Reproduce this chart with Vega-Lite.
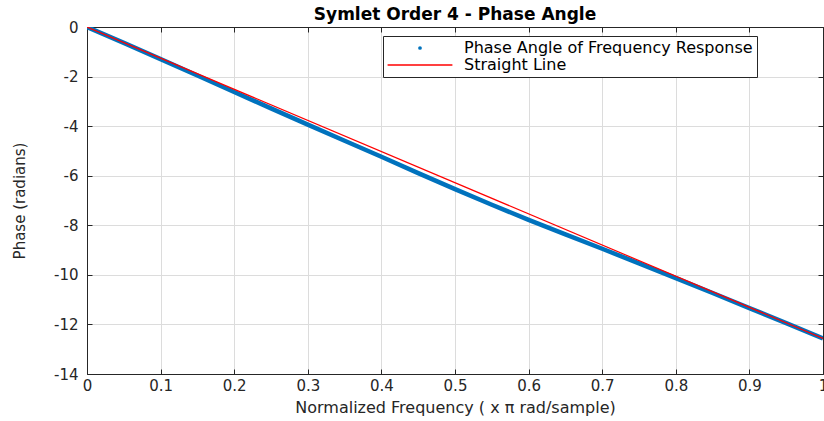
{
  "$schema": "https://vega.github.io/schema/vega-lite/v6.json",
  "autosize": {"type": "none"},
  "width": 736,
  "height": 347,
  "padding": {"left": 87, "top": 27, "right": 1, "bottom": 47},
  "background": "white",
  "title": {"text": "Symlet Order 4 - Phase Angle", "font": "DejaVu Sans", "fontSize": 17, "fontWeight": "bold", "color": "#000000", "offset": -4, "anchor": "middle"},
  "config": {"view": {"stroke": "#262626", "strokeWidth": 1}},
  "datasets": {
    "phase": [
      {"x": 0, "phase": 0, "series": "Phase Angle of Frequency Response"},
      {"x": 0.05, "phase": -0.643, "series": "Phase Angle of Frequency Response"},
      {"x": 0.1, "phase": -1.297, "series": "Phase Angle of Frequency Response"},
      {"x": 0.15, "phase": -1.955, "series": "Phase Angle of Frequency Response"},
      {"x": 0.2, "phase": -2.623, "series": "Phase Angle of Frequency Response"},
      {"x": 0.25, "phase": -3.282, "series": "Phase Angle of Frequency Response"},
      {"x": 0.3, "phase": -3.94, "series": "Phase Angle of Frequency Response"},
      {"x": 0.35, "phase": -4.588, "series": "Phase Angle of Frequency Response"},
      {"x": 0.4, "phase": -5.237, "series": "Phase Angle of Frequency Response"},
      {"x": 0.45, "phase": -5.895, "series": "Phase Angle of Frequency Response"},
      {"x": 0.5, "phase": -6.543, "series": "Phase Angle of Frequency Response"},
      {"x": 0.55, "phase": -7.172, "series": "Phase Angle of Frequency Response"},
      {"x": 0.6, "phase": -7.78, "series": "Phase Angle of Frequency Response"},
      {"x": 0.65, "phase": -8.368, "series": "Phase Angle of Frequency Response"},
      {"x": 0.7, "phase": -8.946, "series": "Phase Angle of Frequency Response"},
      {"x": 0.75, "phase": -9.535, "series": "Phase Angle of Frequency Response"},
      {"x": 0.8, "phase": -10.133, "series": "Phase Angle of Frequency Response"},
      {"x": 0.85, "phase": -10.731, "series": "Phase Angle of Frequency Response"},
      {"x": 0.9, "phase": -11.34, "series": "Phase Angle of Frequency Response"},
      {"x": 0.95, "phase": -11.948, "series": "Phase Angle of Frequency Response"},
      {"x": 1, "phase": -12.566, "series": "Phase Angle of Frequency Response"}
    ],
    "line": [
      {"x": 0, "phase": 0, "series": "Straight Line"},
      {"x": 1, "phase": -12.566, "series": "Straight Line"}
    ]
  },
  "layer": [
    {
      "data": {"name": "phase"},
      "mark": {"type": "line", "strokeWidth": 4.5, "clip": true},
      "encoding": {
        "x": {"field": "x", "type": "quantitative", "scale": {"domain": [0, 1], "nice": false},
          "axis": {"orient": "bottom", "values": [0, 0.1, 0.2, 0.3, 0.4, 0.5, 0.6, 0.7, 0.8, 0.9, 1], "labelExpr": "toString(datum.value)",
            "title": "Normalized Frequency ( x π rad/sample)", "titleFont": "DejaVu Sans", "titleFontSize": 16, "titleFontWeight": "normal", "titleColor": "#262626", "titlePadding": 6,
            "labelFont": "DejaVu Sans", "labelFontSize": 15, "labelColor": "#262626", "labelPadding": 9, "labelFlush": false,
            "grid": true, "gridColor": "#dcdcdc", "gridWidth": 1, "domainColor": "#262626", "tickColor": "#262626", "tickSize": -5}},
        "y": {"field": "phase", "type": "quantitative", "scale": {"domain": [-14, 0], "nice": false},
          "axis": {"orient": "left", "values": [0, -2, -4, -6, -8, -10, -12, -14], "labelExpr": "toString(datum.value)",
            "title": "Phase (radians)", "titleFont": "DejaVu Sans", "titleFontSize": 15, "titleFontWeight": "normal", "titleColor": "#262626", "titlePadding": 26,
            "labelFont": "DejaVu Sans", "labelFontSize": 15, "labelColor": "#262626", "labelPadding": 14, "labelFlush": false,
            "grid": true, "gridColor": "#dcdcdc", "gridWidth": 1, "domainColor": "#262626", "tickColor": "#262626", "tickSize": -5}},
        "color": {"field": "series", "type": "nominal",
          "scale": {"domain": ["Phase Angle of Frequency Response", "Straight Line"], "range": ["#0072BD", "#FF0000"]},
          "legend": {"orient": "none", "legendX": 296, "legendY": 9, "title": null, "direction": "vertical",
            "strokeColor": "#262626", "fillColor": "white", "padding": 4, "rowPadding": 1,
            "labelFont": "DejaVu Sans", "labelFontSize": 16, "labelColor": "#000000", "labelOffset": 61, "labelLimit": 500,
            "encode": {"symbols": {"update": {
              "shape": {"signal": "datum.value === 'Straight Line' ? 'M-1,-0.025H1V0.025H-1Z' : 'circle'"},
              "size": {"signal": "datum.value === 'Straight Line' ? 4200 : 14"},
              "fill": {"signal": "datum.value === 'Straight Line' ? '#FF0000' : '#0072BD'"},
              "strokeWidth": {"value": 0},
              "x": {"value": 33}}}}}}
      }
    },
    {
      "data": {"name": "line"},
      "mark": {"type": "line", "strokeWidth": 1.2, "clip": true},
      "encoding": {
        "x": {"field": "x", "type": "quantitative",
          "axis": {"orient": "top", "values": [0, 0.1, 0.2, 0.3, 0.4, 0.5, 0.6, 0.7, 0.8, 0.9, 1], "labels": false, "title": null, "grid": false, "domainColor": "#262626", "tickColor": "#262626", "tickSize": -5}},
        "y": {"field": "phase", "type": "quantitative",
          "axis": {"orient": "right", "values": [0, -2, -4, -6, -8, -10, -12, -14], "labels": false, "title": null, "grid": false, "domainColor": "#262626", "tickColor": "#262626", "tickSize": -5}},
        "color": {"field": "series", "type": "nominal"}
      }
    }
  ],
  "resolve": {"axis": {"x": "independent", "y": "independent"}}
}
